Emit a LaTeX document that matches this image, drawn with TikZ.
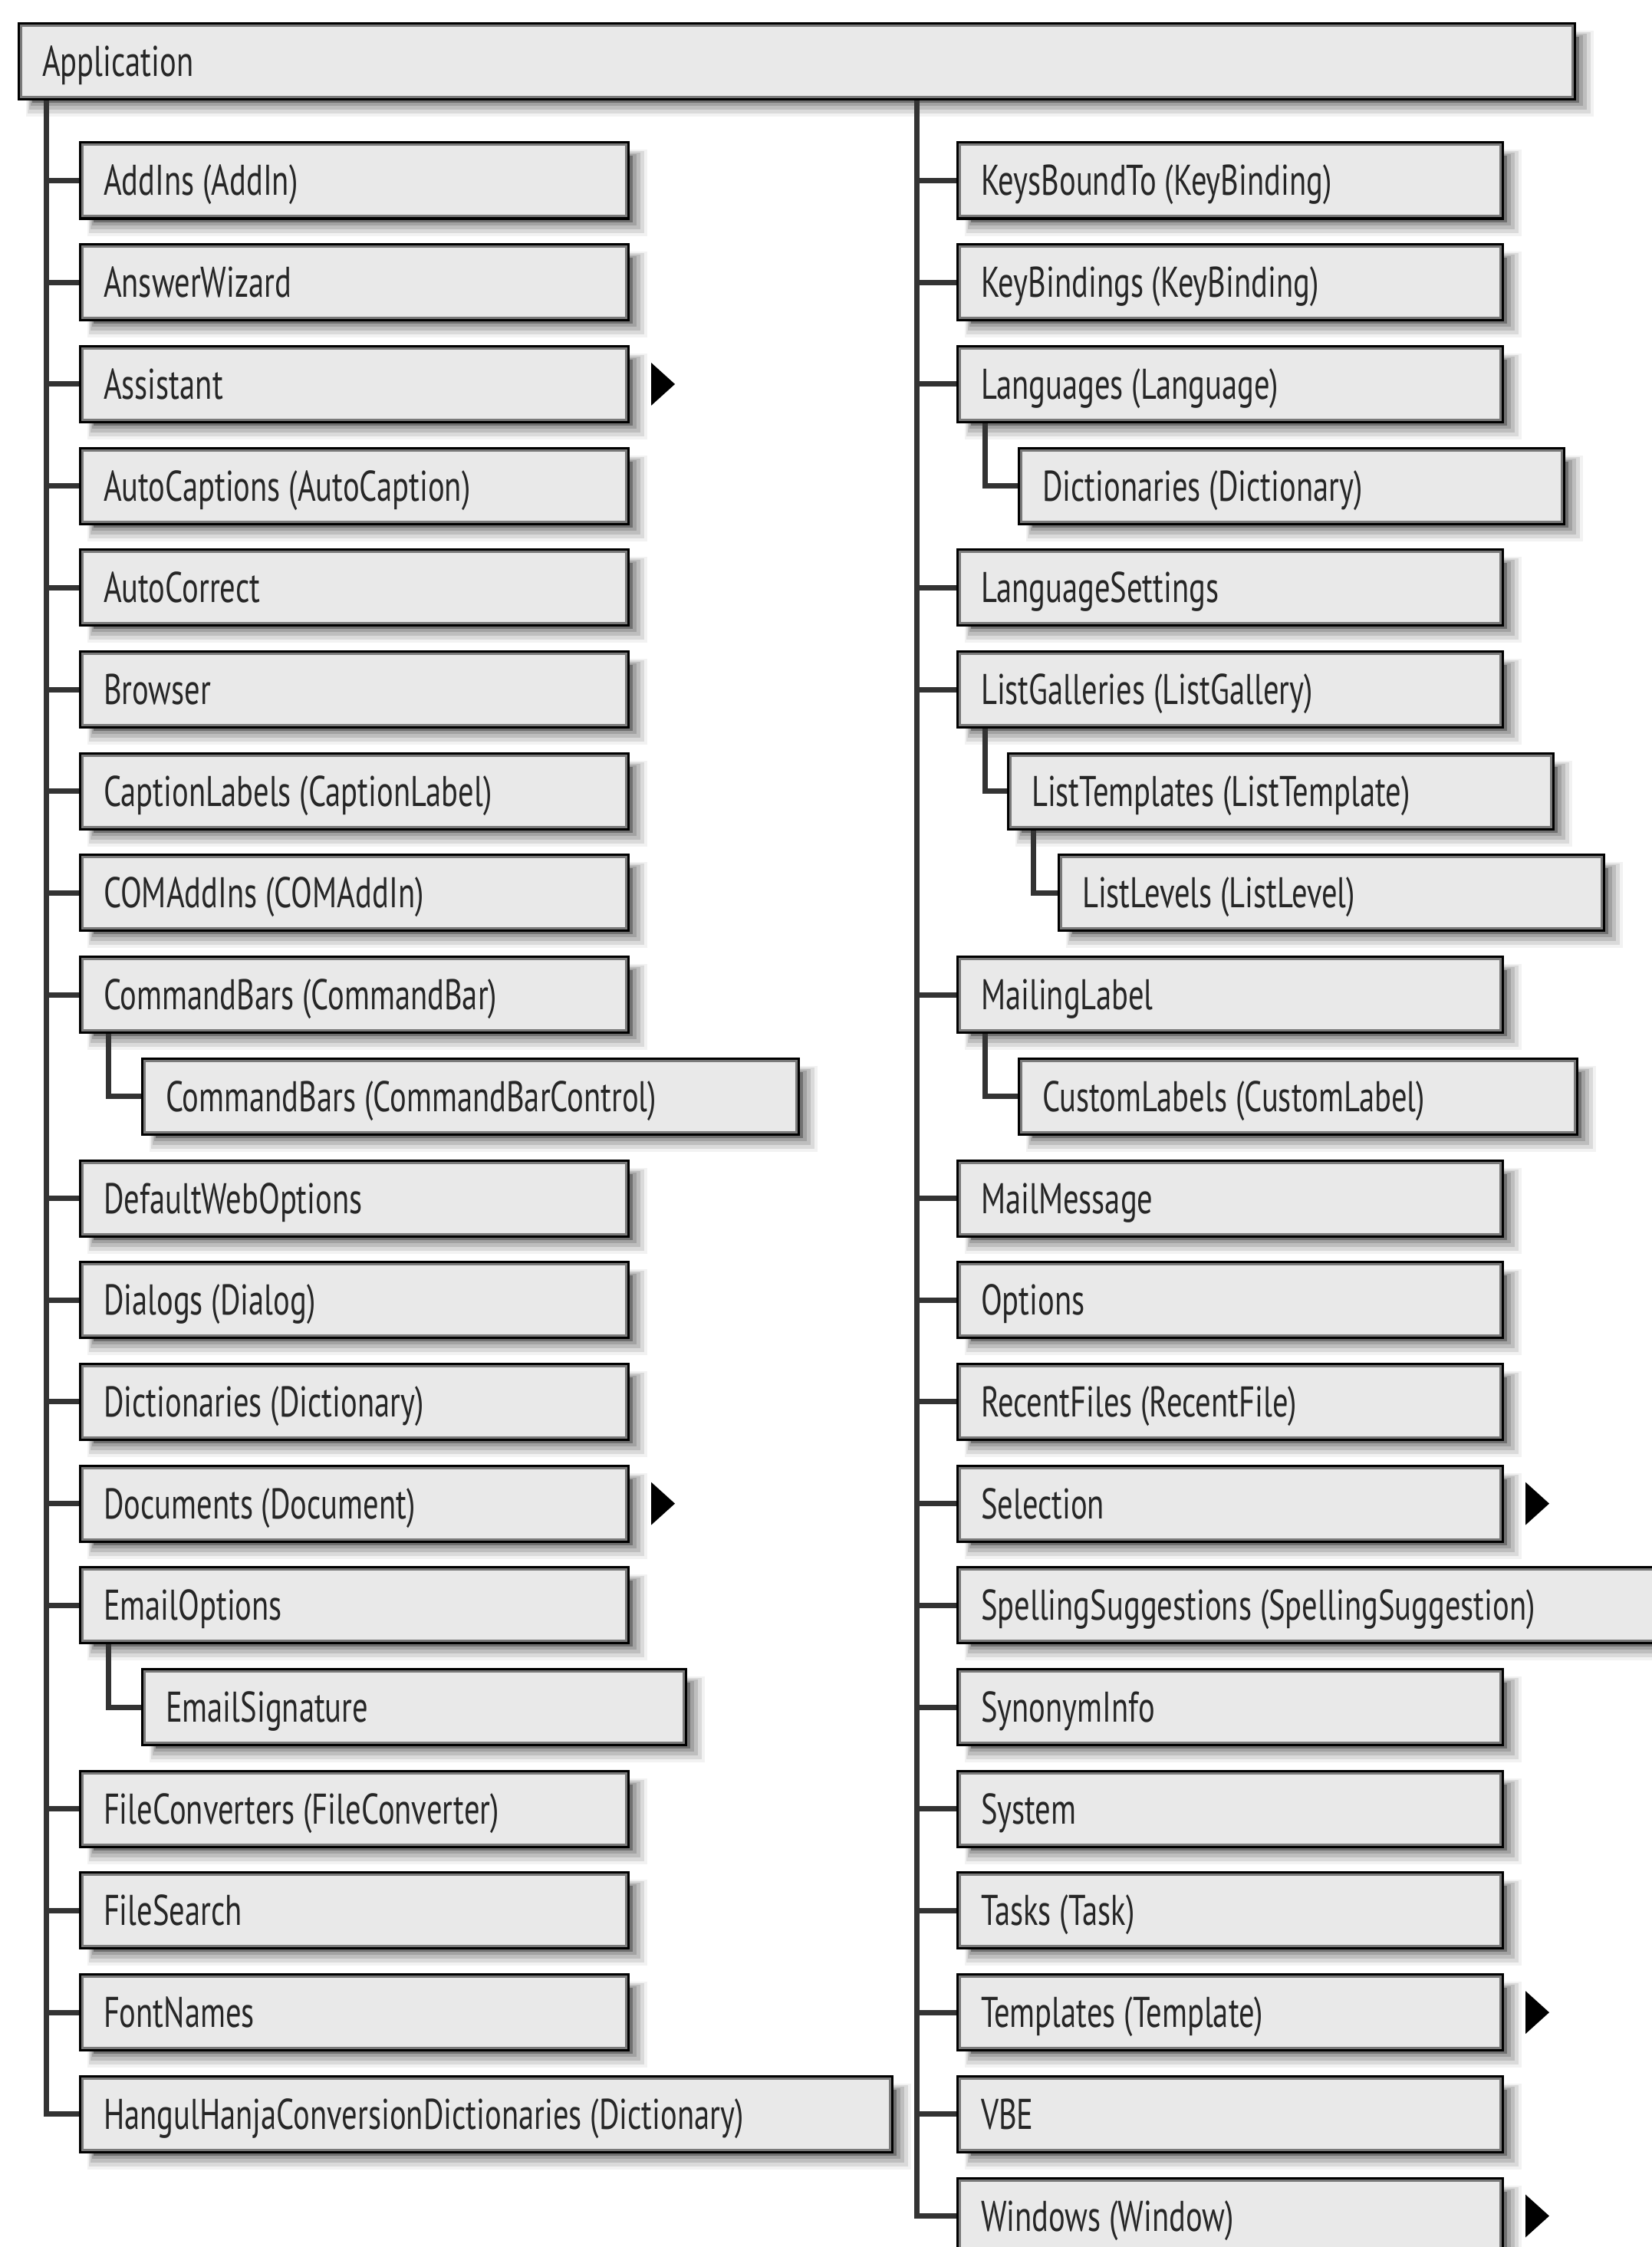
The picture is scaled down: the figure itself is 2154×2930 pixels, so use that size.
\documentclass[tikz,border=0pt]{standalone}
\usepackage{fontspec}
\setmainfont{PT Sans}[FakeStretch=0.725]
\definecolor{boxfill}{HTML}{E9E9E9}
\definecolor{bevelgray}{HTML}{7A7A7A}
\definecolor{linegray}{HTML}{333333}
\definecolor{shA}{HTML}{F2F2F2}
\definecolor{shB}{HTML}{DADADA}
\definecolor{shC}{HTML}{BEBEBE}
\definecolor{shD}{HTML}{A2A2A2}
\definecolor{shE}{HTML}{707070}
\pgfdeclarelayer{shadowlayer}
\pgfdeclarelayer{connlayer}
\pgfsetlayers{shadowlayer,connlayer,main}
\tikzset{
  objbox/.style={rectangle, draw=black, line width=6pt, fill=boxfill,
    minimum height=96pt, inner xsep=29pt, inner ysep=0pt,
    text height=39pt, text depth=0pt, text=black!85,
    font=\fontsize{56}{60}\selectfont},
  bevel/.style={draw=bevelgray, line width=3pt},
  conn/.style={draw=linegray, line width=7pt},
  moretip/.style={fill=black}
}
% vertical centre of a row
\newcommand\rowy[1]{235.5+132.7*#1}
% object box with soft drop shadow: name, left edge, centre y, width, label
\newcommand\objbox[5]{%
  \pgfmathsetmacro\oy{#3}%
  \pgfmathsetmacro\ox{#2+#4}%
  \begin{pgfonlayer}{shadowlayer}
    \fill[shA] ({#2+8},{\oy-40}) rectangle ({\ox+26},{\oy+72});
    \fill[shB] ({#2+10},{\oy-38}) rectangle ({\ox+22},{\oy+68});
    \fill[shC] ({#2+12},{\oy-36}) rectangle ({\ox+17},{\oy+63});
    \fill[shD] ({#2+14},{\oy-34}) rectangle ({\ox+12},{\oy+58});
    \fill[shE] ({#2+16},{\oy-32}) rectangle ({\ox+7},{\oy+54});
  \end{pgfonlayer}
  \node[objbox, minimum width=#4pt] (#1) at ({#2+#4/2},\oy)
    {\makebox[\dimexpr#4pt-58pt\relax][l]{#5}};
  \draw[bevel] ([shift={(4.5,4.5)}]#1.north west) rectangle ([shift={(-4.5,-4.5)}]#1.south east);
}
% black pointer marking a collapsed branch
\newcommand\moreobj[1]{%
  \fill[moretip] ([xshift=28pt,yshift=28pt]#1.east) -- ([xshift=59pt]#1.east)
    -- ([xshift=28pt,yshift=-28pt]#1.east) -- cycle;
}
\begin{document}
\begin{tikzpicture}[x=1pt,y=-1pt]
\useasboundingbox (0,0) rectangle (2154,2930);
\clip (0,0) rectangle (2154,2930);
\coordinate (lt) at (60,0);
\coordinate (rt) at (1195,0);

\objbox{app}{26}{80}{2026}{Application}

% left column
\objbox{addins}{106}{\rowy{0}}{712}{AddIns (AddIn)}
\objbox{answerwiz}{106}{\rowy{1}}{712}{AnswerWizard}
\objbox{assistant}{106}{\rowy{2}}{712}{Assistant}
\objbox{autocaptions}{106}{\rowy{3}}{712}{AutoCaptions (AutoCaption)}
\objbox{autocorrect}{106}{\rowy{4}}{712}{AutoCorrect}
\objbox{browser}{106}{\rowy{5}}{712}{Browser}
\objbox{captionlabels}{106}{\rowy{6}}{712}{CaptionLabels (CaptionLabel)}
\objbox{comaddins}{106}{\rowy{7}}{712}{COMAddIns (COMAddIn)}
\objbox{cmdbars}{106}{\rowy{8}}{712}{CommandBars (CommandBar)}
\objbox{cmdbarctl}{187}{\rowy{9}}{853}{CommandBars (CommandBarControl)}
\objbox{defweb}{106}{\rowy{10}}{712}{DefaultWebOptions}
\objbox{dialogs}{106}{\rowy{11}}{712}{Dialogs (Dialog)}
\objbox{dicts}{106}{\rowy{12}}{712}{Dictionaries (Dictionary)}
\objbox{documents}{106}{\rowy{13}}{712}{Documents (Document)}
\objbox{emailopts}{106}{\rowy{14}}{712}{EmailOptions}
\objbox{emailsig}{187}{\rowy{15}}{706}{EmailSignature}
\objbox{fileconv}{106}{\rowy{16}}{712}{FileConverters (FileConverter)}
\objbox{filesearch}{106}{\rowy{17}}{712}{FileSearch}
\objbox{fontnames}{106}{\rowy{18}}{712}{FontNames}
\objbox{hangul}{106}{\rowy{19}}{1056}{HangulHanjaConversionDictionaries (Dictionary)}

% right column
\objbox{keysbound}{1250}{\rowy{0}}{708}{KeysBoundTo (KeyBinding)}
\objbox{keybind}{1250}{\rowy{1}}{708}{KeyBindings (KeyBinding)}
\objbox{languages}{1250}{\rowy{2}}{708}{Languages (Language)}
\objbox{langdicts}{1330}{\rowy{3}}{708}{Dictionaries (Dictionary)}
\objbox{langset}{1250}{\rowy{4}}{708}{LanguageSettings}
\objbox{listgal}{1250}{\rowy{5}}{708}{ListGalleries (ListGallery)}
\objbox{listtpl}{1316}{\rowy{6}}{708}{ListTemplates (ListTemplate)}
\objbox{listlev}{1382}{\rowy{7}}{708}{ListLevels (ListLevel)}
\objbox{mailing}{1250}{\rowy{8}}{708}{MailingLabel}
\objbox{customlab}{1330}{\rowy{9}}{725}{CustomLabels (CustomLabel)}
\objbox{mailmsg}{1250}{\rowy{10}}{708}{MailMessage}
\objbox{options}{1250}{\rowy{11}}{708}{Options}
\objbox{recent}{1250}{\rowy{12}}{708}{RecentFiles (RecentFile)}
\objbox{selection}{1250}{\rowy{13}}{708}{Selection}
\objbox{spelling}{1250}{\rowy{14}}{1000}{SpellingSuggestions (SpellingSuggestion)}
\objbox{synonym}{1250}{\rowy{15}}{708}{SynonymInfo}
\objbox{system}{1250}{\rowy{16}}{708}{System}
\objbox{tasks}{1250}{\rowy{17}}{708}{Tasks (Task)}
\objbox{templates}{1250}{\rowy{18}}{708}{Templates (Template)}
\objbox{vbe}{1250}{\rowy{19}}{708}{VBE}
\objbox{windows}{1250}{\rowy{20}}{708}{Windows (Window)}

% collapsed branches
\moreobj{assistant}
\moreobj{documents}
\moreobj{selection}
\moreobj{templates}
\moreobj{windows}

% tree connectors
\begin{pgfonlayer}{connlayer}
  \foreach \n in {addins,answerwiz,assistant,autocaptions,autocorrect,browser,
      captionlabels,comaddins,cmdbars,defweb,dialogs,dicts,documents,emailopts,
      fileconv,filesearch,fontnames,hangul}
    \draw[conn] (app.south -| lt) |- (\n.west);
  \foreach \n in {keysbound,keybind,languages,langset,listgal,mailing,mailmsg,
      options,recent,selection,spelling,synonym,system,tasks,templates,vbe,windows}
    \draw[conn] (app.south -| rt) |- (\n.west);
  \draw[conn] ([xshift=38pt]cmdbars.south west) |- (cmdbarctl.west);
  \draw[conn] ([xshift=38pt]emailopts.south west) |- (emailsig.west);
  \draw[conn] ([xshift=37pt]languages.south west) |- (langdicts.west);
  \draw[conn] ([xshift=37pt]listgal.south west) |- (listtpl.west);
  \draw[conn] ([xshift=34pt]listtpl.south west) |- (listlev.west);
  \draw[conn] ([xshift=37pt]mailing.south west) |- (customlab.west);
\end{pgfonlayer}
\end{tikzpicture}
\end{document}
